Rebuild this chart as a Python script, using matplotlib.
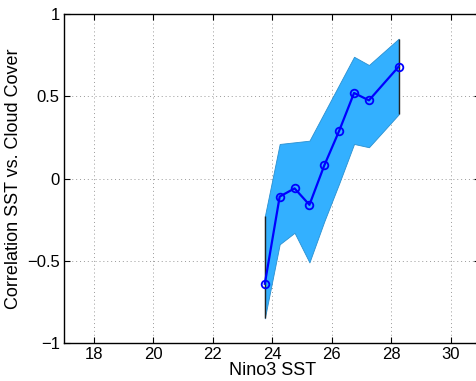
import matplotlib
matplotlib.use("Agg")
import matplotlib.pyplot as plt

# --- DATA ---
sst = [23.75, 24.25, 24.75, 25.25, 25.75, 26.25, 26.75, 27.25, 28.25]
corr = [-0.64, -0.11, -0.06, -0.16, 0.08, 0.29, 0.52, 0.475, 0.68]
upper = [-0.23, 0.21, 0.22, 0.23, 0.40, 0.57, 0.74, 0.69, 0.85]
lower = [-0.85, -0.40, -0.33, -0.51, -0.26, -0.03, 0.21, 0.19, 0.39]

x_ticks = [18, 20, 22, 24, 26, 28, 30]
y_ticks = [-1, -0.5, 0, 0.5, 1]
y_ticklabels = ["\u22121", "\u22120.5", "0", "0.5", "1"]

plt.rcParams['font.family'] = ['Liberation Sans', 'DejaVu Sans']

fig = plt.figure(figsize=(4.77, 3.81), dpi=100)
# axes runs slightly past the right edge, like the original export
ax = fig.add_axes([64 / 477, 1 - 343 / 381, 416.5 / 477, 329 / 381])

# confidence band
ax.fill_between(sst, lower, upper, facecolor='#33B0FF', edgecolor='#2a90d0',
                linewidth=0.6, zorder=2)
ax.vlines([sst[0], sst[-1]], [lower[0], lower[-1]], [upper[0], upper[-1]],
          colors='#222222', linewidth=1.0, zorder=3)

# correlation line
ax.plot(sst, corr, color='#0000FF', linewidth=1.6, marker='o', markersize=5.5,
        markerfacecolor='none', markeredgecolor='#0000FF', markeredgewidth=1.3,
        zorder=4)

ax.set_xlim(17, 31)
ax.set_ylim(-1, 1)
ax.set_xticks(x_ticks)
ax.set_yticks(y_ticks)
ax.set_yticklabels(y_ticklabels)
ax.tick_params(direction='in', length=4, width=0.8, top=True, right=True,
               labelsize=12, pad=3)
ax.grid(True, linestyle=(0, (1, 3)), color='#999999', linewidth=0.7, zorder=0)
ax.set_axisbelow(True)
for s in ax.spines.values():
    s.set_linewidth(1.0)

ax.set_xlabel("Nino3 SST", fontsize=13, labelpad=0)
ax.set_ylabel("Correlation SST vs. Cloud Cover", fontsize=13, labelpad=4)

fig.savefig("out.png", dpi=100)
